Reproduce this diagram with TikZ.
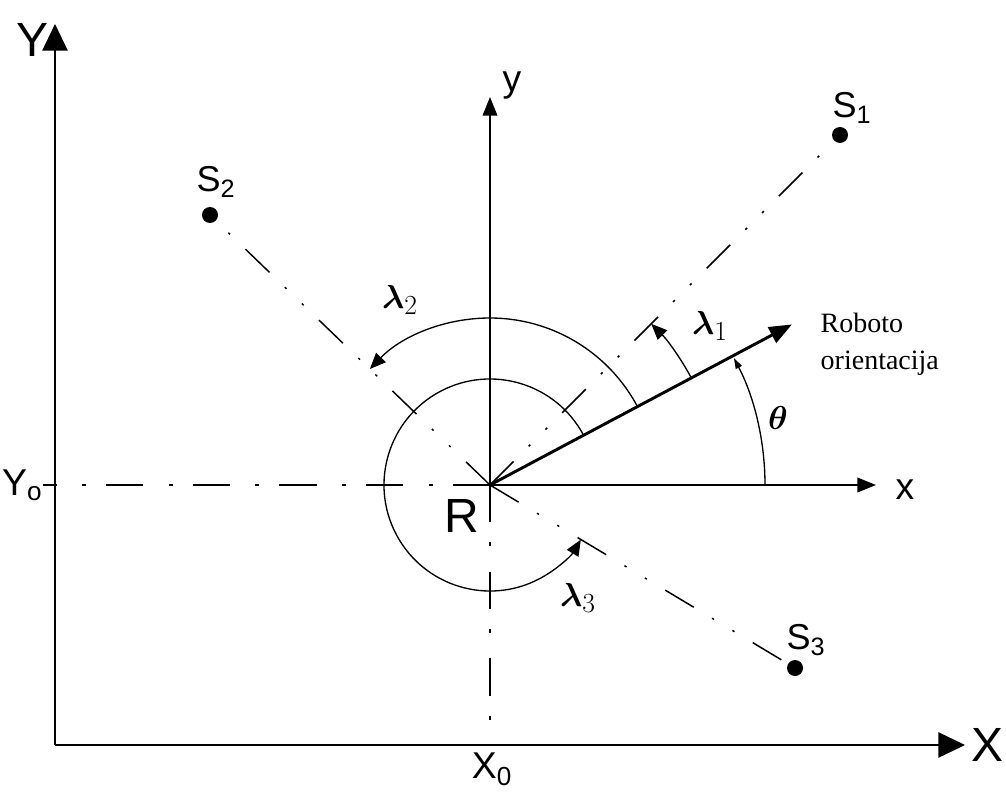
\documentclass[tikz,border=0pt]{standalone}
\usepackage{fontspec}
\usepackage{amsmath,amsbsy}
\setmainfont{Liberation Sans}
\newfontfamily\serifrm{Liberation Serif}
\usetikzlibrary{arrows.meta}

\tikzset{
  bigaxis/.style={line width=1.2pt,-{Triangle[length=20pt,width=19pt]}},
  smallaxis/.style={line width=1.2pt,-{Triangle[length=14pt,width=11pt]}},
  dashdotaxis/.style={line width=1.2pt,dash pattern=on 28pt off 15pt on 3pt off 19pt},
  sensorline/.style={line width=1.1pt,dash pattern=on 25pt off 16pt on 1.8pt off 16pt on 1.8pt off 16pt},
  sdot/.style={circle,fill=black,inner sep=0pt,minimum size=12pt},
  orient/.style={line width=2.2pt,-{Triangle[length=17pt,width=13pt]}},
  arcarr/.style={line width=1pt,-{Triangle[length=12pt,width=10pt]}},
  thetaarr/.style={line width=1pt,-{Triangle[length=8pt,width=5pt]}},
  biglbl/.style={font=\fontsize{36}{40}\selectfont},
  midlbl/.style={font=\fontsize{28}{32}\selectfont},
  slbl/.style={font=\fontsize{27}{30}\selectfont},
  anglbl/.style={font=\fontsize{30}{32}\selectfont},
}

\begin{document}
\begin{tikzpicture}[x=0.75pt,y=0.75pt]
  \useasboundingbox (0,0) rectangle (1006,794);

  % world frame
  \coordinate (O) at (55,49);
  \coordinate (Ytip) at (55,770);
  \coordinate (Xtip) at (965,49);
  \draw[bigaxis] (O) -- (Ytip);
  \draw[bigaxis] (O) -- (Xtip);
  \node[biglbl] (Ylbl) at (33,754) {Y};
  \node[biglbl] (Xlbl) at (987,49) {X};

  % robot position
  \coordinate (R) at (490,309);
  \coordinate (y0) at (55,309);
  \coordinate (y0tick) at (43,309);
  \coordinate (x0) at (490,49);
  \draw[line width=1.2pt] (y0tick) -- (y0);
  \draw[dashdotaxis] (R) -- (y0);
  \draw[dashdotaxis] (R) -- (x0);
  \node[midlbl,anchor=east] (Y0lbl) at (47,309) {Y\textsubscript{o}};
  \node[midlbl] (X0lbl) at (492,25) {X\textsubscript{0}};
  \node[biglbl] (Rlbl) at (462,278) {R};

  % robot frame
  \coordinate (ytip) at (490,697);
  \coordinate (xtip) at (876,309);
  \draw[smallaxis] (R) -- (ytip);
  \draw[smallaxis] (R) -- (xtip);
  \node[midlbl] (ylbl) at (512,708) {y};
  \node[midlbl] (xlbl) at (905,304) {x};

  % sensors
  \node[sdot] (s1) at (840,659) {};
  \node[sdot] (s2) at (210,579) {};
  \node[sdot] (s3) at (795,126) {};
  \draw[sensorline] (R) -- (s1);
  \draw[sensorline] (R) -- (s2);
  \draw[sensorline] (R) -- (s3);
  \node[slbl] (s1lbl) at (852,686) {S\textsubscript{1}};
  \node[slbl] (s2lbl) at (216,612) {S\textsubscript{2}};
  \node[slbl] (s3lbl) at (806,154) {S\textsubscript{3}};

  % orientation
  \coordinate (otip) at ([shift={(28:342)}]R);
  \draw[orient] (R) -- (otip);
  \node[anchor=west,align=left,font=\serifrm\fontsize{21}{28}\selectfont] (otext) at (816,450) {Roboto\\orientacija};

  % angles
  \draw[thetaarr] ([shift={(0:275)}]R) arc[start angle=0,end angle=27.5,radius=275];
  \node[anglbl] (thlbl) at (778,376) {$\boldsymbol{\theta}$};
  \draw[arcarr] ([shift={(28:228)}]R) arc[start angle=28,end angle=45,radius=228];
  \node[anglbl] (l1lbl) at (710,468) {$\boldsymbol{\lambda}_1$};
  \draw[arcarr] ([shift={(28:167)}]R) arc[start angle=28,end angle=136,radius=167];
  \node[anglbl] (l2lbl) at (400,494) {$\boldsymbol{\lambda}_2$};
  \draw[arcarr] ([shift={(28:106)}]R) arc[start angle=28,end angle=329,radius=106];
  \node[anglbl] (l3lbl) at (578,196) {$\boldsymbol{\lambda}_3$};
\end{tikzpicture}
\end{document}
